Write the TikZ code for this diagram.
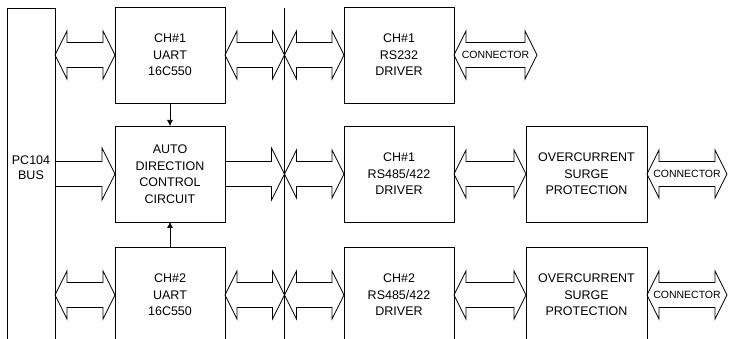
\documentclass[tikz,border=0pt]{standalone}
\usepackage{fontspec}
\setmainfont{Liberation Sans}
\usepackage{tikz}
\usetikzlibrary{arrows.meta,positioning,calc}

\begin{document}
\begin{tikzpicture}[
    x=1pt, y=1pt,
    box/.style={draw, line width=0.8pt, outer sep=0pt, align=center, minimum width=110pt, minimum height=96pt, font=\fontsize{12.5}{16.5}\selectfont},
    busbox/.style={draw, line width=0.8pt, outer sep=0pt, minimum width=48pt, minimum height=340pt},
    conntext/.style={inner sep=0pt, font=\fontsize{10.5}{12}\selectfont},
    ctrl/.style={-{Latex[length=6pt,width=6pt]}, line width=0.6pt},
    dblarrow/.style={line width=0.8pt, line join=miter, to path={let \p1=(\tikztostart), \p2=(\tikztotarget) in
        (\p1) -- (\x1+12pt,\y1+24pt) -- (\x1+12pt,\y1+12.5pt) -- (\x2-12pt,\y1+12.5pt) -- (\x2-12pt,\y1+24pt)
        -- (\p2) -- (\x2-12pt,\y1-24pt) -- (\x2-12pt,\y1-12.5pt) -- (\x1+12pt,\y1-12.5pt) -- (\x1+12pt,\y1-24pt) -- cycle}},
    sglarrow/.style={line width=0.8pt, line join=miter, to path={let \p1=(\tikztostart), \p2=(\tikztotarget) in
        (\x1,\y1+12.5pt) -- (\x2-13pt,\y1+12.5pt) -- (\x2-13pt,\y1+26pt)
        -- (\p2) -- (\x2-13pt,\y1-26pt) -- (\x2-13pt,\y1-12.5pt) -- (\x1,\y1-12.5pt)}}
]
\clip (0,0) rectangle (731,-339);

\node[busbox, anchor=north west, label={[align=center, yshift=10pt, font=\fontsize{12.5}{15}\selectfont]center:PC104\\BUS}] (pcbus) at (7,-8) {};

\node[box] (uart1) at (170,-55) {CH\#1\\UART\\16C550};
\node[box, below=23pt of uart1] (adcc) {AUTO\\DIRECTION\\CONTROL\\CIRCUIT};
\node[box, below=25pt of adcc] (uart2) {CH\#2\\UART\\16C550};

\node[box, right=119pt of uart1] (rs232) {CH\#1\\RS232\\DRIVER};
\node[box, right=119pt of adcc] (rs485a) {CH\#1\\RS485/422\\DRIVER};
\node[box, right=119pt of uart2] (rs485b) {CH\#2\\RS485/422\\DRIVER};

\node[box, right=72pt of rs485a, minimum width=121pt] (surge1) {OVERCURRENT\\SURGE\\PROTECTION};
\node[box, right=72pt of rs485b, minimum width=121pt] (surge2) {OVERCURRENT\\SURGE\\PROTECTION};

\coordinate (bustop) at (284.5,-8);
\coordinate (busbot) at (284.5,-345);
\draw[line width=0.6pt] (bustop) -- (busbot);

\coordinate[right=83pt of rs232.east] (conn1);
\coordinate[right=80pt of surge1.east] (conn2);
\coordinate[right=80pt of surge2.east] (conn3);

\draw[dblarrow] (pcbus.east |- uart1) to (uart1.west);
\draw[dblarrow] (uart1.east) to (uart1.east -| bustop);
\draw[dblarrow] (rs232.west -| bustop) to (rs232.west);
\draw[dblarrow] (rs232.east) to (conn1);

\draw[sglarrow] (pcbus.east |- adcc) to (adcc.west);
\draw[sglarrow] (adcc.east) to (adcc.east -| bustop);
\draw[dblarrow] (rs485a.west -| bustop) to (rs485a.west);
\draw[dblarrow] (rs485a.east) to (surge1.west);
\draw[dblarrow] (surge1.east) to (conn2);

\draw[dblarrow] (pcbus.east |- uart2) to (uart2.west);
\draw[dblarrow] (uart2.east) to (uart2.east -| bustop);
\draw[dblarrow] (rs485b.west -| bustop) to (rs485b.west);
\draw[dblarrow] (rs485b.east) to (surge2.west);
\draw[dblarrow] (surge2.east) to (conn3);

\node[conntext] (c1) at ($(rs232.east)!0.5!(conn1)$) {CONNECTOR};
\node[conntext] (c2) at ($(surge1.east)!0.5!(conn2)$) {CONNECTOR};
\node[conntext] (c3) at ($(surge2.east)!0.5!(conn3)$) {CONNECTOR};

\draw[ctrl] (uart1.south) -- (adcc.north);
\draw[ctrl] (uart2.north) -- (adcc.south);
\end{tikzpicture}
\end{document}
